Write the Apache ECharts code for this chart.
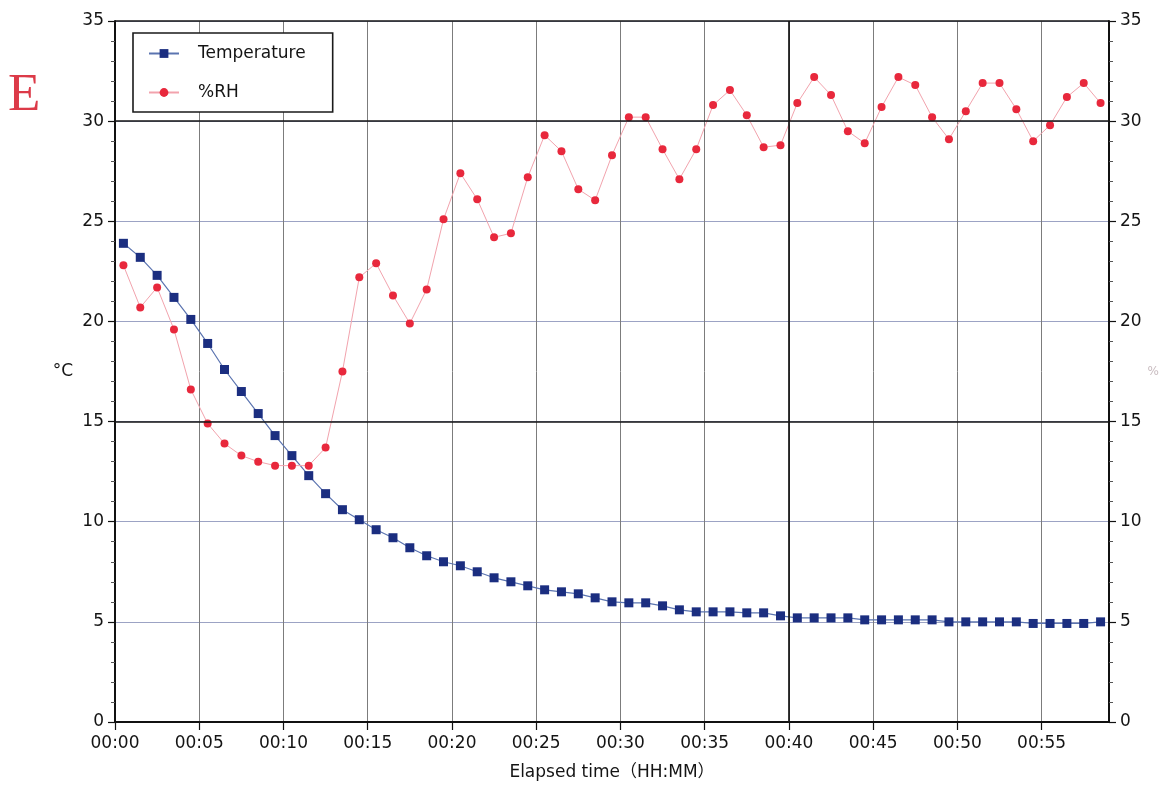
<!DOCTYPE html>
<html>
<head>
<meta charset="utf-8">
<title>Temperature and humidity vs elapsed time</title>
<script src="https://cdn.jsdelivr.net/npm/echarts@6/dist/echarts.min.js"></script>
<style>
  html, body { margin: 0; padding: 0; background: #fff; }
  #chart { width: 1165px; height: 790px; }
</style>
</head>
<body>
<div id="chart"></div>
<script>
// Sample times (minutes after start)
const sampleMinutes = [
  0.5, 1.5, 2.5, 3.5, 4.5, 5.5, 6.5, 7.5, 8.5, 9.5,
  10.5, 11.5, 12.5, 13.5, 14.5, 15.5, 16.5, 17.5, 18.5, 19.5,
  20.5, 21.5, 22.5, 23.5, 24.5, 25.5, 26.5, 27.5, 28.5, 29.5,
  30.5, 31.5, 32.5, 33.5, 34.5, 35.5, 36.5, 37.5, 38.5, 39.5,
  40.5, 41.5, 42.5, 43.5, 44.5, 45.5, 46.5, 47.5, 48.5, 49.5,
  50.5, 51.5, 52.5, 53.5, 54.5, 55.5, 56.5, 57.5, 58.5
];

// Temperature, °C
const temperature = [
  23.9, 23.2, 22.3, 21.2, 20.1, 18.9, 17.6, 16.5, 15.4, 14.3,
  13.3, 12.3, 11.4, 10.6, 10.1, 9.6, 9.2, 8.7, 8.3, 8.0,
  7.8, 7.5, 7.2, 7.0, 6.8, 6.6, 6.5, 6.4, 6.2, 6.0,
  5.95, 5.95, 5.8, 5.6, 5.5, 5.5, 5.5, 5.45, 5.45, 5.3,
  5.2, 5.2, 5.2, 5.2, 5.1, 5.1, 5.1, 5.1, 5.1, 5.0,
  5.0, 5.0, 5.0, 5.0, 4.92, 4.92, 4.92, 4.92, 5.0
];

// Relative humidity, %
const humidity = [
  22.8, 20.7, 21.7, 19.6, 16.6, 14.9, 13.9, 13.3, 13.0, 12.8,
  12.8, 12.8, 13.7, 17.5, 22.2, 22.9, 21.3, 19.9, 21.6, 25.1,
  27.4, 26.1, 24.2, 24.4, 27.2, 29.3, 28.5, 26.6, 26.05, 28.3,
  30.2, 30.2, 28.6, 27.1, 28.6, 30.8, 31.55, 30.3, 28.7, 28.8,
  30.9, 32.2, 31.3, 29.5, 28.9, 30.7, 32.2, 31.8, 30.2, 29.1,
  30.5, 31.9, 31.9, 30.6, 29.0, 29.8, 31.2, 31.9, 30.9
];

const seriesNames = ['Temperature', '%RH'];
const xAxisTitle = 'Elapsed time（HH:MM）';
const leftAxisTitle = '°C';
const rightAxisTitle = '%';
const panelLetter = 'E';

// Gridlines drawn darker than the rest
const darkGridY = [15, 30, 35];
const darkGridX = [40];

const font = 'DejaVu Sans, Noto Sans CJK JP, sans-serif';

function pairs(xs, ys) { return xs.map((x, i) => [x, ys[i]]); }
function clockLabel(v) {
  const m = Math.round(v);
  return '00:' + (m < 10 ? '0' + m : String(m));
}

const chart = echarts.init(document.getElementById('chart'), null, { renderer: 'canvas' });

const yAxisCommon = {
  type: 'value', min: 0, max: 35, interval: 5,
  axisLine: { show: true, lineStyle: { color: '#111', width: 2 } },
  axisTick: { show: true, length: 7, lineStyle: { color: '#111', width: 1.2 } },
  minorTick: { show: true, splitNumber: 5, length: 4, lineStyle: { color: '#555', width: 1 } },
  axisLabel: { color: '#141414', fontSize: 17, fontFamily: font, margin: 11 },
  nameLocation: 'middle', nameRotate: 0
};

chart.setOption({
  animation: false,
  backgroundColor: '#fff',
  grid: { left: 115, right: 56, top: 21, bottom: 68, containLabel: false },
  graphic: [{
    type: 'text', left: 8, top: 70,
    style: { text: panelLetter, fill: '#dc3a48', font: '53px "Liberation Serif", "DejaVu Serif", serif' }
  }],
  legend: {
    data: seriesNames,
    orient: 'vertical',
    left: 133, top: 33,
    padding: [12, 27, 11, 15],
    itemGap: 22,
    itemWidth: 30, itemHeight: 11,
    backgroundColor: '#fff',
    borderColor: '#1a1a1a', borderWidth: 1.6,
    textStyle: { color: '#141414', fontSize: 17, fontFamily: font, padding: [0, 0, 0, 14] }
  },
  xAxis: {
    type: 'value', min: 0, max: 59, interval: 5,
    name: xAxisTitle, nameLocation: 'middle', nameGap: 42,
    nameTextStyle: { color: '#141414', fontSize: 17, fontFamily: font },
    axisLine: { show: true, onZero: false, lineStyle: { color: '#111', width: 2 } },
    axisTick: { show: true, length: 8, lineStyle: { color: '#111', width: 1.2 } },
    axisLabel: { color: '#141414', fontSize: 17, fontFamily: font, margin: 13,
                 showMaxLabel: false, formatter: clockLabel },
    splitLine: { show: true, lineStyle: { color: '#7c7c7c', width: 1 } }
  },
  yAxis: [
    Object.assign({}, yAxisCommon, {
      position: 'left',
      name: leftAxisTitle, nameGap: 42,
      nameTextStyle: { color: '#141414', fontSize: 17, fontFamily: font },
      splitLine: { show: true, lineStyle: { color: '#9ca3c4', width: 1 } }
    }),
    Object.assign({}, yAxisCommon, {
      position: 'right',
      name: rightAxisTitle, nameGap: 38,
      nameTextStyle: { color: '#c9bcc0', fontSize: 12, fontFamily: font },
      splitLine: { show: false }
    })
  ],
  series: [
    {
      name: seriesNames[0],
      type: 'line',
      yAxisIndex: 0,
      data: pairs(sampleMinutes, temperature),
      symbol: 'rect', symbolSize: 9,
      itemStyle: { color: '#1b2e80' },
      lineStyle: { color: '#5b74b0', width: 1.2 },
      z: 3,
      markLine: {
        silent: true, symbol: 'none', animation: false,
        label: { show: false },
        lineStyle: { color: '#141414', width: 1.7, type: 'solid' },
        data: darkGridY.map(v => ({ yAxis: v })).concat(darkGridX.map(v => ({ xAxis: v })))
      }
    },
    {
      name: seriesNames[1],
      type: 'line',
      yAxisIndex: 1,
      data: pairs(sampleMinutes, humidity),
      symbol: 'circle', symbolSize: 8,
      itemStyle: { color: '#e8283c' },
      lineStyle: { color: '#f2a3ad', width: 1 },
      z: 4
    }
  ]
});
</script>
</body>
</html>
